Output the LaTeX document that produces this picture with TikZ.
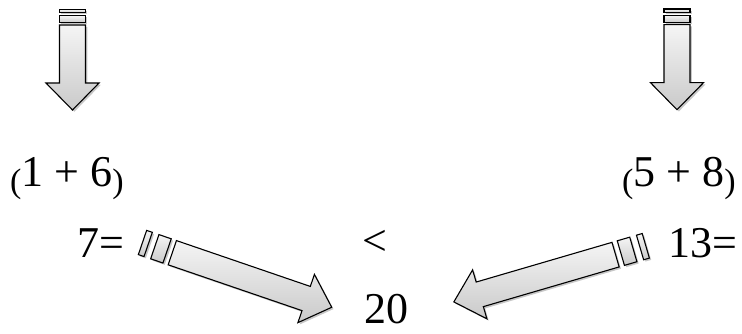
\documentclass[tikz,border=0pt]{standalone}
\usepackage{fontspec}
\setmainfont{Liberation Serif}
\newcommand\pf[1]{{\fontsize{34}{34}\selectfont\raisebox{-6pt}{#1}}}
\newcommand\arrowparts[1]{%
  \path[#1] (0,-\hw) rectangle (\sa,\hw);
  \path[#1] (\sb,-\hw) rectangle (\sc,\hw);
  \path[#1] (\sd,-\hw) -- (\se,-\hw) -- (\se,-\hh) -- (\tip,0) -- (\se,\hh) -- (\se,\hw) -- (\sd,\hw) -- cycle;
}
\newcommand\striped[3]{%
  \begin{scope}[shift={(#1+1.8,#2-1.8)},#3]\arrowparts{fill=black!40,opacity=0.55}\end{scope}
  \begin{scope}[shift={(#1,#2)},#3]\arrowparts{arrowbody}\end{scope}
}
\newcommand\setdown{\def\sa{3.4}\def\sb{6.4}\def\sc{13.4}\def\sd{15.7}\def\se{73.7}\def\tip{100.7}\def\hw{13}\def\hh{26.5}}
\newcommand\setdiag{\def\sa{6}\def\sb{13}\def\sc{26}\def\sd{31.5}\def\se{173}\def\tip{200}\def\hw{12.8}\def\hh{25.5}}
\tikzset{
  arrowbody/.style={draw=black,line width=1.1pt,line join=miter,top color=gray!8,bottom color=gray!42},
  lbl/.style={anchor=base west,inner sep=0pt,font=\fontsize{44}{44}\selectfont}
}
\begin{document}
\begin{tikzpicture}[x=1pt,y=1pt]
\useasboundingbox (0,0) rectangle (742,334);
% down arrows
\setdown
\striped{72.5}{324.7}{rotate=-90,yscale=-1}
\striped{677}{325}{rotate=-90,yscale=-1}
% diagonal arrows
\setdiag
\striped{142.5}{91.5}{rotate=-18.9}
\striped{645.8}{88.2}{rotate=196.3,yscale=-1}
% texts
\node[lbl] (sum1) at (10,147) {\pf{(}1 + 6\pf{)}};
\node[lbl] (sum2) at (622,147) {\pf{(}5 + 8\pf{)}};
\node[lbl] (seven) at (77,76) {7=};
\node[lbl] (lt) at (362,78) {<};
\node[lbl] (twenty) at (364,10) {20};
\node[lbl] (thirteen) at (668,76) {13=};
\end{tikzpicture}
\end{document}
